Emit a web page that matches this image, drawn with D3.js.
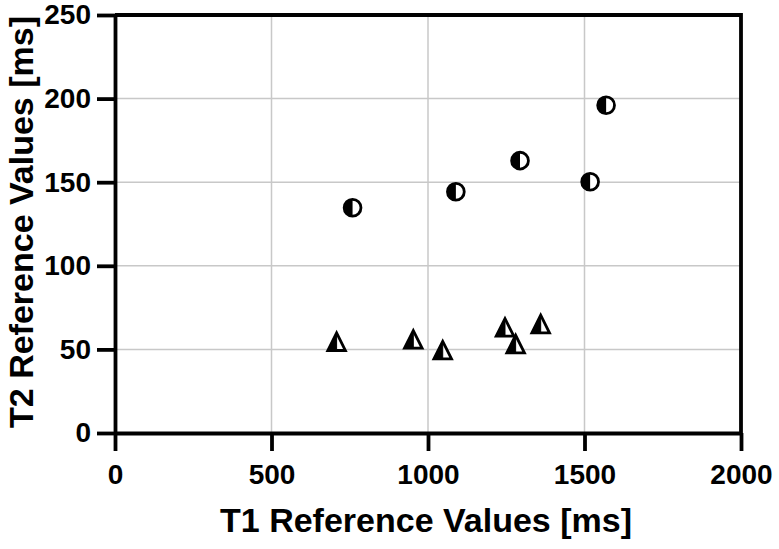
<!DOCTYPE html>
<html>
<head>
<meta charset="utf-8">
<script src="https://cdn.jsdelivr.net/npm/d3@7"></script>
<style>
  body { margin: 0; background: #fff; }
  text { font-family: "Liberation Sans", Arial, sans-serif; font-weight: bold; }
</style>
</head>
<body>
<script>
// data
const circleT1 = [759, 1089, 1294, 1518, 1569];
const circleT2 = [134.7, 144.3, 162.9, 150.3, 196];
const triangleT1 = [708, 953, 1047, 1246, 1280, 1360];
const triangleT2 = [54.6, 56, 49.6, 63.2, 53.2, 65.2];
const xTicks = [0, 500, 1000, 1500, 2000];
const yTicks = [0, 50, 100, 150, 200, 250];
const xTitle = "T1 Reference Values [ms]";
const yTitle = "T2 Reference Values [ms]";

const W = 779, H = 549;
const svg = d3.select("body").append("svg")
    .attr("width", W)
    .attr("height", H);

const x = d3.scaleLinear().domain([0, 2000]).range([115, 741]);
const y = d3.scaleLinear().domain([0, 250]).range([433, 15]);

// grid
svg.append("g")
    .selectAll("line")
    .data(xTicks.slice(1, -1))
    .enter().append("line")
    .attr("x1", d => x(d)).attr("x2", d => x(d))
    .attr("y1", y(0)).attr("y2", y(250))
    .attr("stroke", "#c8c8c8").attr("stroke-width", 1.5);
svg.append("g")
    .selectAll("line")
    .data(yTicks.slice(1, -1))
    .enter().append("line")
    .attr("x1", x(0)).attr("x2", x(2000))
    .attr("y1", d => y(d)).attr("y2", d => y(d))
    .attr("stroke", "#c8c8c8").attr("stroke-width", 1.5);

// frame top + right
svg.append("path")
    .attr("d", `M${x(0)},${y(250)}H${x(2000)}V${y(0)}`)
    .attr("fill", "none")
    .attr("stroke", "#000")
    .attr("stroke-width", 3.8);

// axes
const fmt = d3.format("d");
const xAxis = svg.append("g")
    .attr("transform", `translate(0,${y(0)})`)
    .call(d3.axisBottom(x).tickValues(xTicks).tickFormat(fmt).tickSize(18).tickSizeOuter(0).tickPadding(13));
const yAxis = svg.append("g")
    .attr("transform", `translate(${x(0)},0)`)
    .call(d3.axisLeft(y).tickValues(yTicks).tickFormat(fmt).tickSize(18).tickSizeOuter(0).tickPadding(6));

[xAxis, yAxis].forEach(g => {
    g.select(".domain").attr("stroke-width", 3.8);
    g.selectAll(".tick line").attr("stroke-width", 3.8);
    g.selectAll("text")
        .style("font-size", "28px")
        .style("font-family", "'Liberation Sans', Arial, sans-serif")
        .style("font-weight", "bold")
        .attr("fill", "#000");
});

// titles
svg.append("text")
    .attr("x", 426).attr("y", 532)
    .attr("text-anchor", "middle")
    .style("font-size", "34px")
    .text(xTitle);
svg.append("text")
    .attr("transform", "translate(33,222) rotate(-90)")
    .attr("text-anchor", "middle")
    .style("font-size", "34px")
    .text(yTitle);

// markers
const circles = circleT1.map((d, i) => ({ t1: d, t2: circleT2[i] }));
const triangles = triangleT1.map((d, i) => ({ t1: d, t2: triangleT2[i] }));
const r = 8.4;

const cg = svg.append("g").selectAll("g")
    .data(circles)
    .enter().append("g")
    .attr("transform", d => `translate(${x(d.t1)},${y(d.t2)})`);
cg.append("circle")
    .attr("r", r)
    .attr("fill", "#fff")
    .attr("stroke", "#000")
    .attr("stroke-width", 2.8);
cg.append("path")
    .attr("d", `M0,${-r}A${r},${r} 0 0 0 0,${r}Z`)
    .attr("fill", "#000");

const hw = 8.8, hh = 8.8;
const tg = svg.append("g").selectAll("g")
    .data(triangles)
    .enter().append("g")
    .attr("transform", d => `translate(${x(d.t1)},${y(d.t2)})`);
tg.append("path")
    .attr("d", `M0,${-hh}L${hw},${hh}L${-hw},${hh}Z`)
    .attr("fill", "#fff")
    .attr("stroke", "#000")
    .attr("stroke-width", 2.8)
    .attr("stroke-linejoin", "miter");
tg.append("path")
    .attr("d", `M0,${-hh}L0,${hh}L${-hw},${hh}Z`)
    .attr("fill", "#000")
    .attr("stroke", "#000")
    .attr("stroke-width", 1);
</script>
</body>
</html>
